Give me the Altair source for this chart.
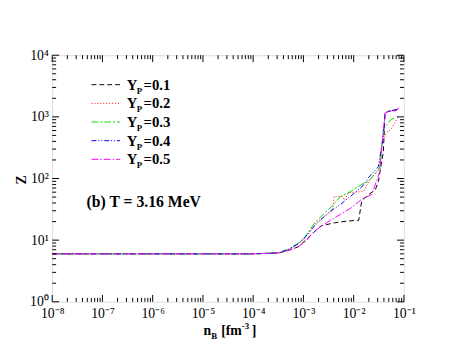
import altair as alt
import pandas as pd

# ---- data ----
series_names = ["Y_P=0.1", "Y_P=0.2", "Y_P=0.3", "Y_P=0.4", "Y_P=0.5"]

nB_01 = [1e-8, 1e-4, 3.16e-4, 5.0e-4, 7.9e-4, 1.07e-3, 1.58e-3, 2.24e-3, 4.0e-3, 7.4e-3, 1.26e-2,
         1.45e-2, 2.0e-2, 2.7e-2, 3.1e-2, 3.6e-2, 3.9e-2, 4.2e-2, 4.9e-2, 7.6e-2]
Z_01 = [6.0, 6.0, 6.2, 6.8, 7.8, 9.8, 13.2, 17.0, 19.0, 20.4, 21.0,
        44.0, 55.0, 66.0, 89.0, 186.0, 269.0, 1150.0, 1230.0, 1320.0]

nB_02 = [1e-8, 1e-4, 3.16e-4, 5.0e-4, 7.9e-4, 1.07e-3, 1.66e-3, 2.5e-3, 3.8e-3, 4.1e-3, 6.0e-3,
         6.6e-3, 7.9e-3, 1.58e-2, 2.1e-2, 3.16e-2, 3.6e-2, 4.5e-2, 5.6e-2, 7.6e-2]
Z_02 = [6.0, 6.0, 6.2, 6.9, 8.7, 11.0, 17.8, 24.0, 29.5, 51.3, 51.3,
        44.7, 58.9, 61.7, 97.7, 141.0, 339.0, 562.0, 631.0, 1000.0]

nB_03 = [1e-8, 1e-4, 3.16e-4, 5.0e-4, 7.9e-4, 1.07e-3, 1.66e-3, 2.5e-3, 3.7e-3, 5.5e-3, 8.7e-3,
         1.48e-2, 2.0e-2, 3.3e-2, 3.9e-2, 5.6e-2, 6.6e-2]
Z_03 = [6.0, 6.0, 6.2, 7.1, 8.9, 11.2, 19.0, 26.3, 35.5, 51.3, 61.7,
        81.0, 91.0, 145.0, 631.0, 912.0, 955.0]

nB_04 = [1e-8, 1e-4, 3.16e-4, 5.0e-4, 7.9e-4, 1.07e-3, 1.66e-3, 3.16e-3, 5.5e-3, 1.48e-2, 2.0e-2,
         3.1e-2, 3.9e-2, 4.2e-2, 4.9e-2, 7.6e-2]
Z_04 = [6.0, 6.0, 6.2, 7.1, 8.7, 11.0, 17.0, 28.2, 38.0, 74.0, 105.0,
        155.0, 490.0, 1150.0, 1230.0, 1320.0]

nB_05 = [1e-8, 1e-4, 3.16e-4, 5.0e-4, 7.9e-4, 1.07e-3, 1.66e-3, 3.0e-3, 8.7e-3, 1.48e-2, 2.3e-2,
         3.3e-2, 4.2e-2, 4.9e-2, 7.0e-2, 8.3e-2]
Z_05 = [6.0, 6.0, 6.2, 6.8, 7.8, 9.3, 14.1, 19.5, 33.0, 46.8, 55.0,
        129.0, 1150.0, 1230.0, 1260.0, 1480.0]

x_exponents = [-8, -7, -6, -5, -4, -3, -2, -1]
y_exponents = [0, 1, 2, 3, 4]

# ---- styles ----
colors = ["#000000", "#ff0000", "#00e000", "#0000ff", "#ff00ff"]
dashes = [[5, 3], [1, 2], [7, 2, 2, 2], [5, 2, 1, 2, 1, 2], [7, 2, 1.5, 2]]
FONT = "Liberation Serif"
W, H = 358, 251

rows = []
for name, xs, zs in zip(series_names,
                        [nB_01, nB_02, nB_03, nB_04, nB_05],
                        [Z_01, Z_02, Z_03, Z_04, Z_05]):
    for i, (a, b) in enumerate(zip(xs, zs)):
        rows.append({"series": name, "nB": a, "Z": b, "order": i})
df = pd.DataFrame(rows)

xmaj = [10.0 ** e for e in x_exponents]
xmin = [k * 10.0 ** e for e in x_exponents[:-1] for k in range(2, 10)]
ymaj = [10.0 ** e for e in y_exponents]
ymin = [k * 10.0 ** e for e in y_exponents[:-1] for k in range(2, 10)]

SUP = {"0": "\u2070", "1": "\u00b9", "2": "\u00b2", "3": "\u00b3", "4": "\u2074",
       "5": "\u2075", "6": "\u2076", "7": "\u2077", "8": "\u2078", "9": "\u2079", "-": "\u207b"}


def sup(e):
    return "10" + "".join(SUP[c] for c in str(e))


def label_expr(exps):
    expr = "''"
    for e in reversed(exps):
        expr = f"abs(log(datum.value)/LN10 - ({e})) < 0.1 ? '{sup(e)}' : " + expr
    return expr


xscale = alt.Scale(type="log", domain=[1e-8, 1e-1], nice=False)
yscale = alt.Scale(type="log", domain=[1, 1e4], nice=False)

xaxis = alt.Axis(values=xmaj, labelExpr=label_expr(x_exponents), ticks=False, domain=False,
                 grid=False, title=None, labelFont=FONT, labelFontSize=14, labelColor="black",
                 labelPadding=5, labelFlush=False)
yaxis = alt.Axis(values=ymaj, labelExpr=label_expr(y_exponents), ticks=False, domain=False,
                 grid=False, title=None, labelFont=FONT, labelFontSize=14, labelColor="black",
                 labelPadding=4, labelFlush=False)

lines = alt.Chart(df).mark_line(strokeWidth=1, clip=True).encode(
    x=alt.X("nB:Q", scale=xscale, axis=xaxis),
    y=alt.Y("Z:Q", scale=yscale, axis=yaxis),
    color=alt.Color("series:N", scale=alt.Scale(domain=series_names, range=colors), legend=None),
    strokeDash=alt.StrokeDash("series:N", scale=alt.Scale(domain=series_names, range=dashes), legend=None),
    order="order:Q",
)

layers = [lines]


def xticks(vals, length):
    d = pd.DataFrame({"v": vals})
    bot = alt.Chart(d).mark_rule(color="black", strokeWidth=1).encode(
        x=alt.X("v:Q", scale=xscale), y=alt.value(H), y2=alt.value(H - length))
    top = alt.Chart(d).mark_rule(color="black", strokeWidth=1).encode(
        x=alt.X("v:Q", scale=xscale), y=alt.value(0), y2=alt.value(length))
    return [bot, top]


def yticks(vals, length):
    d = pd.DataFrame({"v": vals})
    left = alt.Chart(d).mark_rule(color="black", strokeWidth=1).encode(
        y=alt.Y("v:Q", scale=yscale), x=alt.value(0), x2=alt.value(length))
    right = alt.Chart(d).mark_rule(color="black", strokeWidth=1).encode(
        y=alt.Y("v:Q", scale=yscale), x=alt.value(W), x2=alt.value(W - length))
    return [left, right]


layers += xticks(xmaj, 7) + xticks(xmin, 4) + yticks(ymaj, 7) + yticks(ymin, 4)

one = pd.DataFrame({"a": [0]})


def txt(s, x, y, size=14, bold=True, angle=0, align="left", baseline="alphabetic"):
    kw = dict(text=s, font=FONT, fontSize=size, fontWeight="bold" if bold else "normal",
              color="black", align=align, baseline=baseline)
    if angle:
        kw["angle"] = angle
    return alt.Chart(one).mark_text(**kw).encode(x=alt.value(x), y=alt.value(y))


# legend
for i, (name, c, d) in enumerate(zip(series_names, colors, dashes)):
    yy = 30 + i * 19
    layers.append(alt.Chart(one).mark_rule(color=c, strokeDash=d, strokeWidth=1).encode(
        x=alt.value(40), x2=alt.value(69), y=alt.value(yy)))
    layers.append(txt("Y", 76, yy + 5, size=15))
    layers.append(txt("P", 86, yy + 9, size=9))
    layers.append(txt("=" + name.split("=")[1], 93, yy + 5, size=15))

# annotation
layers.append(txt("(b) T = 3.16 MeV", 35, 154, size=16))

# axis titles
layers.append(txt("n", 154, 285))
layers.append(txt("B", 162, 289, size=9))
layers.append(txt("[fm", 172, 285))
layers.append(txt("-3", 193, 279, size=9))
layers.append(txt("]", 203, 285))
layers.append(txt("Z", -31, 127, angle=270, align="center", baseline="middle"))

chart = alt.layer(*layers).properties(
    width=W, height=H,
    padding={"left": 45, "top": 45, "right": 52, "bottom": 46},
    autosize="none",
).configure_view(stroke="black", strokeWidth=1.5).configure(background="white")

chart.save("out.html", embed_options={"renderer": "svg", "actions": False})
